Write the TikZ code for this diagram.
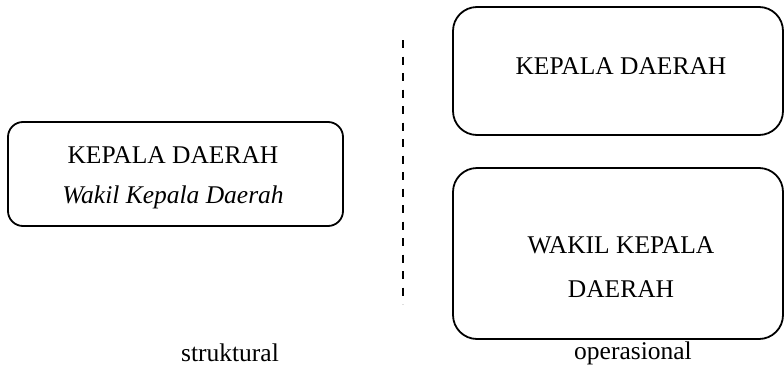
\documentclass[tikz,border=0pt]{standalone}
\usepackage{fontspec}
\setmainfont{Liberation Serif}
\usetikzlibrary{positioning}
\tikzset{
  panelbox/.style={draw=black,line width=1.8pt,rounded corners=15pt,inner sep=0pt},
  bigbox/.style={panelbox,rounded corners=24pt},
  boxtext/.style={font=\fontsize{25.5}{30}\selectfont,inner sep=0pt,anchor=base},
  divline/.style={line width=1.8pt,dash pattern=on 8pt off 8.5pt},
}

\begin{document}
\begin{tikzpicture}[x=1pt,y=-1pt]
  \useasboundingbox (0,0) rectangle (784,375);
  % left: struktural
  \node[panelbox,minimum width=335pt,minimum height=104pt] (bStr) at (175.5,174) {};
  \node[boxtext] (tKd) at (173,163) {KEPALA DAERAH};
  \node[boxtext] (tWk) at (173,203) {\itshape Wakil Kepala Daerah};
  \node[boxtext] (lStr) at (230,361) {struktural};
  % divider
  \coordinate (dTop) at (403,40);
  \coordinate (dBot) at (403,304);
  \draw[divline] (dTop) -- (dBot);
  % right: operasional
  \node[bigbox,minimum width=330pt,minimum height=128pt] (bKd) at (618,71) {};
  \node[boxtext] (tKd2) at (621,74) {KEPALA DAERAH};
  \node[bigbox,minimum width=330pt,minimum height=171pt] (bWk) at (618,253.5) {};
  \node[boxtext] (tWk2a) at (621,253) {WAKIL KEPALA};
  \node[boxtext] (tWk2b) at (621,297) {DAERAH};
  \node[boxtext] (lOps) at (633,359) {operasional};
\end{tikzpicture}
\end{document}
